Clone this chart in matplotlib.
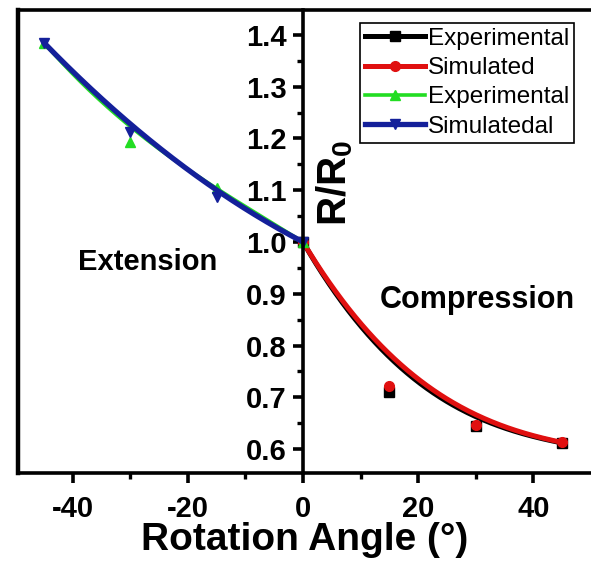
import numpy as np
from matplotlib import pyplot as plt
from math import comb

plt.rcParams['font.family'] = ['Liberation Sans', 'DejaVu Sans']
plt.rcParams['mathtext.fontset'] = 'custom'
plt.rcParams['mathtext.rm'] = 'Liberation Sans:bold'
plt.rcParams['mathtext.bf'] = 'Liberation Sans:bold'

# extension side (negative angles)
ext_angle = [-45, -30, -15, 0]
ext_exp = [1.385, 1.193, 1.104, 1.0]
ext_sim = [1.385, 1.213, 1.087, 1.0]

# compression side (positive angles)
comp_angle = [0, 15, 30, 45]
comp_exp = [1.0, 0.710, 0.645, 0.612]
comp_sim = [1.0, 0.722, 0.647, 0.613]

labels = ["Experimental", "Simulated", "Experimental", "Simulatedal"]


def bspline(xs, ys, n=200):
    # Origin-like B-spline connection (Bezier through control points)
    t = np.linspace(0, 1, n)
    k = len(xs) - 1
    basis = [comb(k, i) * t**i * (1 - t)**(k - i) for i in range(k + 1)]
    bx = sum(b * x for b, x in zip(basis, xs))
    by = sum(b * y for b, y in zip(basis, ys))
    return bx, by


fig = plt.figure(figsize=(5.91, 5.65), dpi=100)
ax = fig.add_axes([18 / 591, 1 - 473 / 565, 1 - 18 / 591, 463 / 565])

series = [
    (comp_angle, comp_exp, "black", "s", 3.6, labels[0]),
    (comp_angle, comp_sim, "#e01010", "o", 3.6, labels[1]),
    (ext_angle, ext_exp, "#22dd22", "^", 2.6, labels[2]),
    (ext_angle, ext_sim, "#14209a", "v", 3.8, labels[3]),
]
handles = []
for xs, ys, col, mk, lw, lab in series:
    cx, cy = bspline(xs, ys)
    ax.plot(cx, cy, color=col, lw=lw, solid_capstyle="round")
    ax.plot(xs, ys, ls="none", marker=mk, color=col, ms=7)
    h, = ax.plot([], [], color=col, lw=lw, marker=mk, ms=7, label=lab)
    handles.append(h)

ax.set_xlim(-49.5, 50)
ax.set_ylim(0.554, 1.448)

ax.spines['left'].set_position(('data', 0))
ax.spines['right'].set_visible(False)
for s in ['left', 'top', 'bottom']:
    ax.spines[s].set_linewidth(2.6)
# outer left frame line
ax.plot([0, 0], [0, 1], transform=ax.transAxes, color="black", lw=3.2,
        clip_on=False)

ax.set_xticks([-40, -20, 0, 20, 40])
ax.set_xticks([-30, -10, 10, 30], minor=True)
ax.set_yticks([0.6, 0.7, 0.8, 0.9, 1.0, 1.1, 1.2, 1.3, 1.4])
ax.set_yticks(np.arange(0.65, 1.45, 0.1), minor=True)
ax.set_xticklabels(["-40", "-20", "0", "20", "40"])
ax.tick_params(which="major", direction="out", length=7, width=2.6,
               labelsize=21)
ax.tick_params(axis="x", which="major", pad=9)
ax.tick_params(axis="y", which="major", pad=5)
ax.tick_params(which="minor", direction="out", length=4.5, width=2.4)
for lab in ax.get_xticklabels() + ax.get_yticklabels():
    lab.set_fontweight("bold")

ax.set_xlabel("Rotation Angle (°)", fontsize=28, fontweight="bold",
              labelpad=-1)

ax.text(0.553, 0.626, r"R/R$_0$", transform=ax.transAxes, rotation=90,
        fontsize=29, fontweight="bold", ha="center", va="center")
ax.text(-27, 0.962, "Extension", fontsize=21, fontweight="bold",
        ha="center", va="center")
ax.text(30.2, 0.888, "Compression", fontsize=22, fontweight="bold",
        ha="center", va="center")

leg = ax.legend(handles=handles, loc="upper right",
                bbox_to_anchor=(0.97, 0.972), fontsize=17.5, frameon=True,
                fancybox=False, framealpha=1, edgecolor="black",
                handlelength=2.5, handletextpad=0.1, borderpad=0.2,
                labelspacing=0.3, borderaxespad=0)
leg.get_frame().set_linewidth(1.2)

plt.savefig("out.png")
